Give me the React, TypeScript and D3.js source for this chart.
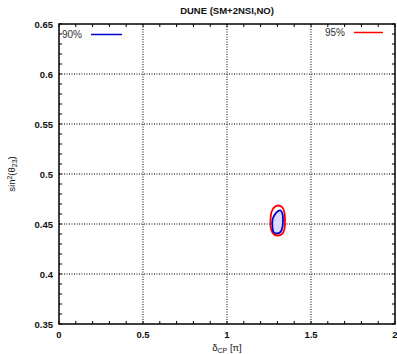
import React from "react";
import * as d3 from "d3";

const title = "DUNE (SM+2NSI,NO)";
const xTicks = [0, 0.5, 1, 1.5, 2];
const xTickLabels = ["0", "0.5", "1", "1.5", "2"];
const yTicks = [0.35, 0.4, 0.45, 0.5, 0.55, 0.6, 0.65];
const yTickLabels = ["0.35", "0.4", "0.45", "0.5", "0.55", "0.6", "0.65"];
const contour90: [number, number][] = [
  [1.3185, 0.4635], [1.3304, 0.46], [1.3333, 0.454], [1.3304, 0.447], [1.3185, 0.442],
  [1.2976, 0.4405], [1.2768, 0.442], [1.2708, 0.447], [1.2708, 0.454], [1.2827, 0.459], [1.3006, 0.4625],
];
const contour95: [number, number][] = [
  [1.3065, 0.4685], [1.3304, 0.4665], [1.3423, 0.461], [1.3452, 0.453], [1.3423, 0.445], [1.3274, 0.44],
  [1.3036, 0.4385], [1.2798, 0.4395], [1.2619, 0.445], [1.2589, 0.454], [1.2649, 0.462], [1.2827, 0.467],
];

export default function App() {
  const W = 397, H = 354;
  const L = 59, R = 395, T = 24, B = 324;
  const x = d3.scaleLinear().domain([0, 2]).range([L, R]);
  const y = d3.scaleLinear().domain([0.35, 0.65]).range([B, T]);
  const line = d3.line<[number, number]>().x(d => x(d[0])).y(d => y(d[1])).curve(d3.curveCatmullRomClosed);
  const xMinor = d3.range(0, 2.0001, 0.1);
  const yMinor = d3.range(0.35, 0.6501, 0.01);
  const font = "Liberation Sans, Arial, Helvetica, sans-serif";
  return (
    <svg width={W} height={H} style={{ position: "absolute", left: 0, top: 0 }} fontFamily={font}>
      <rect width={W} height={H} fill="#fff" />
      <text x={(L + R) / 2} y={14} textAnchor="middle" fontSize={9.5} fontWeight="bold" fill="#111">{title}</text>
      {xTicks.slice(1, -1).map((t, i) => (
        <line key={"gx" + i} x1={x(t)} x2={x(t)} y1={T} y2={B} stroke="#000" strokeWidth={1} strokeDasharray="1,1.5" />
      ))}
      {yTicks.slice(1, -1).map((t, i) => (
        <line key={"gy" + i} x1={L} x2={R} y1={y(t)} y2={y(t)} stroke="#000" strokeWidth={1} strokeDasharray="1,1.5" />
      ))}
      {xMinor.map((t, i) => (
        <g key={"xm" + i}>
          <line x1={x(t)} x2={x(t)} y1={B} y2={B - 3} stroke="#000" strokeWidth={1} />
          <line x1={x(t)} x2={x(t)} y1={T} y2={T + 3} stroke="#000" strokeWidth={1} />
        </g>
      ))}
      {yMinor.map((t, i) => (
        <g key={"ym" + i}>
          <line x1={L} x2={L + 3} y1={y(t)} y2={y(t)} stroke="#000" strokeWidth={1} />
          <line x1={R} x2={R - 3} y1={y(t)} y2={y(t)} stroke="#000" strokeWidth={1} />
        </g>
      ))}
      <path d={line(contour95) || ""} fill="none" stroke="#ff0000" strokeWidth={1.8} />
      <path d={line(contour90) || ""} fill="#dcdcff" stroke="#0000cc" strokeWidth={1.8} />
      <rect x={L} y={T} width={R - L} height={B - T} fill="none" stroke="#000" strokeWidth={1.5} />
      {xTicks.map((t, i) => (
        <text key={"xl" + i} x={x(t)} y={338} textAnchor="middle" fontSize={9.5} fontWeight="bold" fill="#111">{xTickLabels[i]}</text>
      ))}
      {yTicks.map((t, i) => (
        <text key={"yl" + i} x={53} y={y(t) + 3.5} textAnchor="end" fontSize={9.5} fontWeight="bold" fill="#111">{yTickLabels[i]}</text>
      ))}
      <text x={(L + R) / 2} y={351} textAnchor="middle" fontSize={9.5} fill="#111">
        δ<tspan fontSize={7} dy={2}>CP</tspan><tspan dy={-2}> [π]</tspan>
      </text>
      <text transform={`translate(15,${(T + B) / 2}) rotate(-90)`} textAnchor="middle" fontSize={9.5} fill="#111">
        sin<tspan fontSize={7} dy={-3}>2</tspan><tspan dy={3}>(θ</tspan><tspan fontSize={7} dy={2}>23</tspan><tspan dy={-2}>)</tspan>
      </text>
      <text x={62} y={38} fontSize={10} fill="#333">90%</text>
      <line x1={91} x2={122} y1={34.5} y2={34.5} stroke="#0000cc" strokeWidth={1.5} />
      <text x={345} y={36} textAnchor="end" fontSize={10} fill="#333">95%</text>
      <line x1={354} x2={383} y1={32.5} y2={32.5} stroke="#ff0000" strokeWidth={1.5} />
    </svg>
  );
}
